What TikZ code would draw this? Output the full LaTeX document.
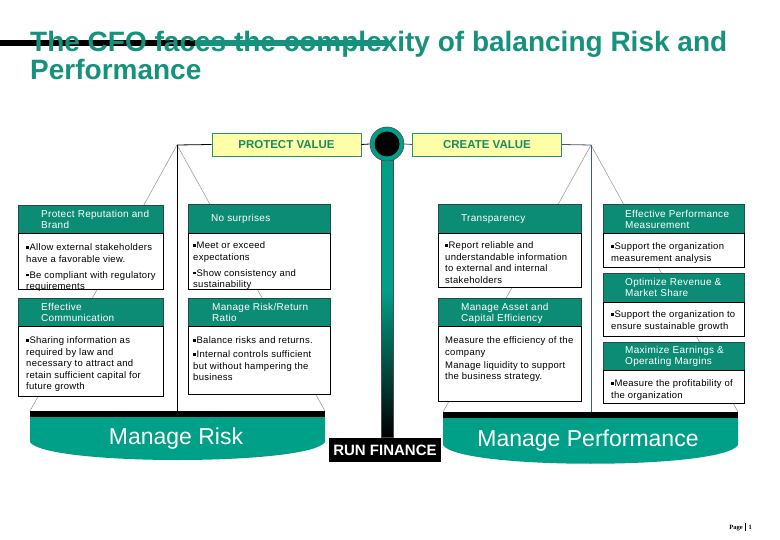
\documentclass[tikz,border=0pt]{standalone}
\usepackage{fontspec}
\setmainfont{Liberation Sans}
\newfontfamily\spacedfont[LetterSpace=3]{Liberation Sans}
\newfontfamily\pagefont{Liberation Serif}
\definecolor{titleteal}{RGB}{22,146,124}
\definecolor{hdrteal}{RGB}{12,140,116}
\definecolor{hdrline}{RGB}{30,80,70}
\definecolor{panteal}{RGB}{0,160,136}
\definecolor{valfill}{RGB}{255,255,168}
\definecolor{valline}{RGB}{40,150,100}
\definecolor{valtext}{RGB}{24,140,96}
\definecolor{slate}{RGB}{70,90,120}
\newcommand{\bsq}{\raisebox{1.8pt}{\rule{2.6pt}{2.6pt}}\hspace{0.8pt}}
\begin{document}
\begin{tikzpicture}[x=1pt,y=-1pt,
  hdr/.style={draw=hdrline, fill=hdrteal, line width=0.7pt, anchor=north west, inner sep=0pt},
  bodybox/.style={draw=black, fill=white, line width=0.7pt, anchor=north west, inner sep=0pt},
  htxt/.style={text=white, font=\spacedfont\fontsize{10}{10.8}\selectfont, align=left, inner sep=0pt, anchor=north west},
  btxt/.style={text=black, font=\spacedfont\fontsize{9.5}{11.5}\selectfont, align=left, inner sep=0pt, anchor=north west},
  hanger/.style={draw=gray!85, line width=0.5pt},
  valbox/.style={draw=valline, fill=valfill, line width=0.8pt, text=valtext, font=\bfseries\fontsize{11.5}{12}\selectfont, minimum width=149pt, minimum height=23pt, inner sep=0pt},
  pantxt/.style={text=white, font=\fontsize{23}{24}\selectfont, inner sep=0pt}
]
\useasboundingbox (0,0) rectangle (780,540);
\fill[white] (0,0) rectangle (780,540);

% title
\draw[line width=6.5pt] (0,43) -- (195,43);
\draw[line width=6.5pt, titleteal] (195,43) -- (388,43);
\node[anchor=base west, inner sep=0pt, text=titleteal, font=\bfseries\fontsize{28}{29}\selectfont] (title1) at (30,52) {The CFO faces the complexity of balancing Risk and};
\node[anchor=base west, inner sep=0pt, text=titleteal, font=\bfseries\fontsize{28}{29}\selectfont] (title2) at (30,80) {Performance};

% scale coordinates
\coordinate (apexL) at (177,145);
\coordinate (apexR) at (591,145);
\coordinate (panLl) at (30,411);
\coordinate (panLr) at (325,411);
\coordinate (panLc) at (177,411);
\coordinate (panRl) at (443,412);
\coordinate (panRr) at (738,412);
\coordinate (panRc) at (591,412);

% hangers
\draw[hanger] (apexL) -- (panLl);
\draw[hanger] (apexL) -- (panLr);
\draw[hanger] (apexR) -- (panRl);
\draw[hanger] (apexR) -- (panRr);
\draw[black, line width=0.8pt] (apexL) -- (panLc);
\draw[slate, line width=0.8pt] (apexR) -- (panRc);

% post
\fill[panteal] (381,160) rectangle (393,290);
\shade[top color=panteal, bottom color=black] (381,290) rectangle (393,437);
\draw[black!70, line width=0.6pt] (381,160) rectangle (393,437);

% value boxes and hub
\node[valbox] (pv) at (286.5,144.5) {PROTECT VALUE};
\node[valbox] (cv) at (487,144.5) {CREATE VALUE};
\node[circle, fill=panteal, draw=black!70, line width=0.6pt, minimum size=34pt, inner sep=0pt] (hub) at (387,144) {};
\node[circle, fill=black, minimum size=25pt, inner sep=0pt] (hubin) at (387,144) {};
\draw[black, line width=0.8pt] (apexL) -- (pv.west);
\draw[black, line width=0.8pt] (pv.east) -- (hub.west);
\draw[slate, line width=0.8pt] (hub.east) -- (cv.west);
\draw[slate, line width=0.8pt] (cv.east) -- (apexR);

% column 1
\node[hdr, minimum width=145pt, minimum height=28pt] (h11) at (18,205) {};
\node[htxt] (h11t) at (41,210.5) {Protect Reputation and\\Brand};
\node[bodybox, minimum width=145pt, minimum height=56pt] (b11) at (18,233) {};
\node[btxt] (b11t) at (26,243.5) {\bsq Allow external stakeholders\\have a favorable view.\\[4.5pt]\bsq Be compliant with regulatory\\requirements};
\node[hdr, minimum width=145pt, minimum height=28pt] (h12) at (18,298) {};
\node[htxt] (h12t) at (41,303.5) {Effective\\Communication};
\node[bodybox, minimum width=145pt, minimum height=70pt] (b12) at (18,326) {};
\node[btxt] (b12t) at (26,336.5) {\bsq Sharing information as\\required by law and\\necessary to attract and\\retain sufficient capital for\\future growth};

% column 2
\node[hdr, minimum width=142pt, minimum height=29pt] (h21) at (188,204) {};
\node[htxt, anchor=west] (h21t) at (211,219) {No surprises};
\node[bodybox, minimum width=142pt, minimum height=56pt] (b21) at (188,233) {};
\node[btxt] (b21t) at (193,241.5) {\bsq Meet or exceed\\expectations\\[4.5pt]\bsq Show consistency and\\sustainability};
\node[hdr, minimum width=142pt, minimum height=28pt] (h22) at (188,298) {};
\node[htxt] (h22t) at (212,303.5) {Manage Risk/Return\\Ratio};
\node[bodybox, minimum width=142pt, minimum height=68pt] (b22) at (188,326) {};
\node[btxt] (b22t) at (193,336.5) {\bsq Balance risks and returns.\\[2.5pt]\bsq Internal controls sufficient\\but without hampering the\\business};

% column 3
\node[hdr, minimum width=143pt, minimum height=29pt] (h31) at (438,204) {};
\node[htxt, anchor=west] (h31t) at (461,219) {Transparency};
\node[bodybox, minimum width=143pt, minimum height=54pt] (b31) at (438,233) {};
\node[btxt] (b31t) at (445,241.5) {\bsq Report reliable and\\understandable information\\to external and internal\\stakeholders};
\node[hdr, minimum width=143pt, minimum height=28pt] (h32) at (438,298) {};
\node[htxt] (h32t) at (461,303.5) {Manage Asset and\\Capital Efficiency};
\node[bodybox, minimum width=143pt, minimum height=75pt] (b32) at (438,326) {};
\node[btxt] (b32t) at (445,336.5) {Measure the efficiency of the\\company\\[1.5pt]Manage liquidity to support\\the business strategy.};

% column 4
\node[hdr, minimum width=141pt, minimum height=29pt] (h41) at (603,204) {};
\node[htxt] (h41t) at (625,210.5) {Effective Performance\\Measurement};
\node[bodybox, minimum width=141pt, minimum height=34pt] (b41) at (603,233) {};
\node[btxt] (b41t) at (611,242.5) {\bsq Support the organization\\measurement analysis};
\node[hdr, minimum width=141pt, minimum height=29pt] (h42) at (603,273) {};
\node[htxt] (h42t) at (625,278.5) {Optimize Revenue \&\\Market Share};
\node[bodybox, minimum width=141pt, minimum height=34pt] (b42) at (603,302) {};
\node[btxt] (b42t) at (611,310.5) {\bsq Support the organization to\\ensure sustainable growth};
\node[hdr, minimum width=141pt, minimum height=28pt] (h43) at (603,342) {};
\node[htxt] (h43t) at (625,346.5) {Maximize Earnings \&\\Operating Margins};
\node[bodybox, minimum width=141pt, minimum height=33pt] (b43) at (603,370) {};
\node[btxt] (b43t) at (611,379.5) {\bsq Measure the profitability of\\the organization};

% pans
\fill[black] (30,411) rectangle (325,417);
\fill[panteal] (30,417) -- (325,417) -- (325,442) .. controls (310,466) and (45,466) .. (30,442) -- cycle;
\node[pantxt] (mr) at (176,439) {Manage Risk};
\fill[black] (443,412) rectangle (738,418);
\fill[panteal] (443,418) -- (738,418) -- (738,445) .. controls (723,470) and (458,470) .. (443,445) -- cycle;
\node[pantxt] (mp) at (588,441) {Manage Performance};

% run finance
\node[fill=black, text=white, font=\bfseries\fontsize{15}{16}\selectfont, minimum width=112pt, minimum height=24pt, inner sep=0pt] (rf) at (385,450) {RUN FINANCE};

% footer
\node[anchor=east, inner sep=0pt, font=\pagefont\bfseries\fontsize{6.5}{7}\selectfont] (pg) at (752,527) {Page \,\rule[-1.5pt]{0.4pt}{8pt}\, 1};
\end{tikzpicture}
\end{document}
